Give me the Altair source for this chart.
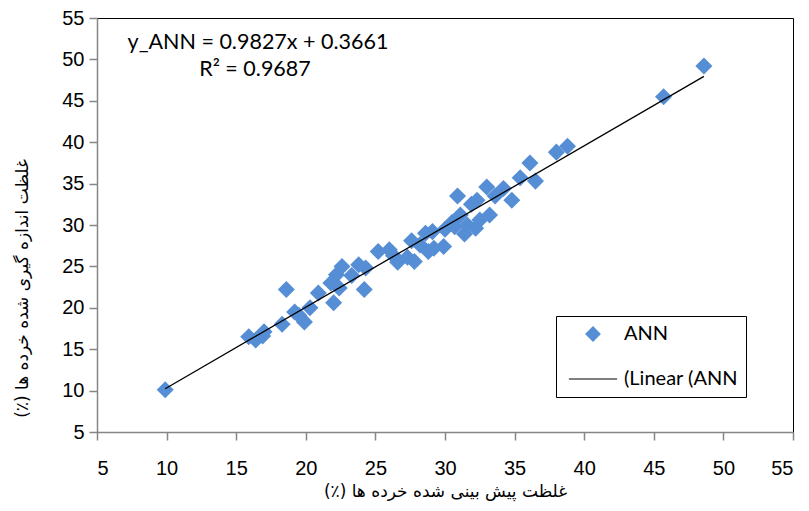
import altair as alt
import pandas as pd

# ---- data ----
pred_x = [9.9, 15.9, 16.4, 16.9, 17.0, 18.3, 18.6, 19.2, 19.5, 19.9, 20.3, 20.9,
          22.0, 21.8, 22.2, 22.6, 22.4, 23.3, 23.8, 24.2, 24.3, 25.2, 26.0, 26.3,
          26.6, 27.3, 27.6, 27.8, 28.2, 28.6, 28.8, 29.1, 29.2, 29.9, 30.0, 30.5,
          30.7, 30.9, 31.1, 31.4, 31.6, 31.9, 32.2, 32.3, 32.5, 33.0, 33.2, 33.6,
          34.2, 34.8, 35.4, 36.1, 36.5, 38.0, 38.8, 45.7, 48.6]
meas_y = [10.1, 16.5, 16.1, 16.6, 17.1, 18.0, 22.2, 19.5, 19.1, 18.3, 20.0, 21.8,
          20.6, 23.0, 24.0, 25.0, 22.4, 23.9, 25.2, 22.2, 24.8, 26.8, 27.0, 26.3,
          25.5, 26.1, 28.1, 25.6, 27.6, 29.0, 26.8, 29.2, 27.2, 27.4, 29.5, 30.3,
          29.8, 33.5, 31.2, 28.9, 30.0, 32.5, 29.6, 33.0, 30.6, 34.6, 31.2, 33.5,
          34.4, 33.0, 35.7, 37.5, 35.3, 38.8, 39.5, 45.5, 49.2]
series_names = ["ANN", "(Linear (ANN"]
axis_ticks = [5, 10, 15, 20, 25, 30, 35, 40, 45, 50, 55]
eq_lines = ["y_ANN = 0.9827x + 0.3661", "R² = 0.9687"]
RLE, PDF = "\u202B", "\u202C"
x_title = RLE + "غلظت پیش بینی شده خرده ها (٪)" + PDF
y_title = RLE + "غلظت اندازه گیری شده خرده ها (٪)" + PDF

df = pd.DataFrame({"x": pred_x, "y": meas_y, "series": series_names[0]})

blue = "#558ED5"
line_path = "M-3.05,-0.065H3.05V0.065H-3.05Z"

color_scale = alt.Scale(domain=series_names, range=[blue, "black"])
shape_scale = alt.Scale(domain=series_names, range=["diamond", line_path])

xs = alt.X("x:Q", scale=alt.Scale(domain=[5, 55], nice=False),
           axis=alt.Axis(values=axis_ticks, title=x_title, titlePadding=5,
                         labelPadding=18))
ys = alt.Y("y:Q", scale=alt.Scale(domain=[5, 55], nice=False),
           axis=alt.Axis(values=axis_ticks, title=y_title, labelPadding=5,
                         titleX=-75, titleY=270, titleAngle=-90,
                         titleAlign="center", titleBaseline="middle"))

legend = alt.Legend(title=None, orient="none", legendX=459, legendY=298,
                    strokeColor="black", padding=8, labelFont="Lato",
                    labelFontSize=20, labelColor="black", symbolSize=250,
                    symbolStrokeWidth=0, symbolOffset=19, labelOffset=21,
                    rowPadding=25, fillColor="white")

points = alt.Chart(df).mark_point(filled=True, opacity=1, size=290).encode(
    x=xs, y=ys,
    color=alt.Color("series:N", scale=color_scale, legend=legend),
    shape=alt.Shape("series:N", scale=shape_scale, legend=legend),
)

trend = alt.Chart(df).transform_regression("x", "y").transform_calculate(
    series=f"'{series_names[1]}'"
).mark_line(strokeWidth=1.3).encode(
    x="x:Q", y="y:Q",
    color=alt.Color("series:N", scale=color_scale, legend=legend),
)

eq1 = alt.Chart(pd.DataFrame({"t": [eq_lines[0]]})).mark_text(
    font="Lato", fontSize=21.5, color="black", align="center", baseline="middle"
).encode(text="t:N", x=alt.value(161), y=alt.value(25))
eq2 = alt.Chart(pd.DataFrame({"t": [eq_lines[1]]})).mark_text(
    font="Lato", fontSize=21.5, color="black", align="center", baseline="middle"
).encode(text="t:N", x=alt.value(158), y=alt.value(52))

chart = alt.layer(points, trend, eq1, eq2).properties(
    width=696, height=414,
    autosize=alt.AutoSizeParams(type="none"),
    padding={"left": 97, "top": 18, "right": 16, "bottom": 79},
).configure_view(
    stroke="black", strokeWidth=1
).configure_axis(
    grid=False, labelFont="Liberation Sans", labelFontSize=20, labelColor="black",
    tickColor="#868686", domainColor="#868686", domainWidth=1.5, tickWidth=1.5,
    tickSize=8, titleFont="DejaVu Sans", titleFontSize=17,
    titleFontWeight="normal", titleColor="black",
)

chart.save("out.html", embed_options={"renderer": "svg", "actions": False})
